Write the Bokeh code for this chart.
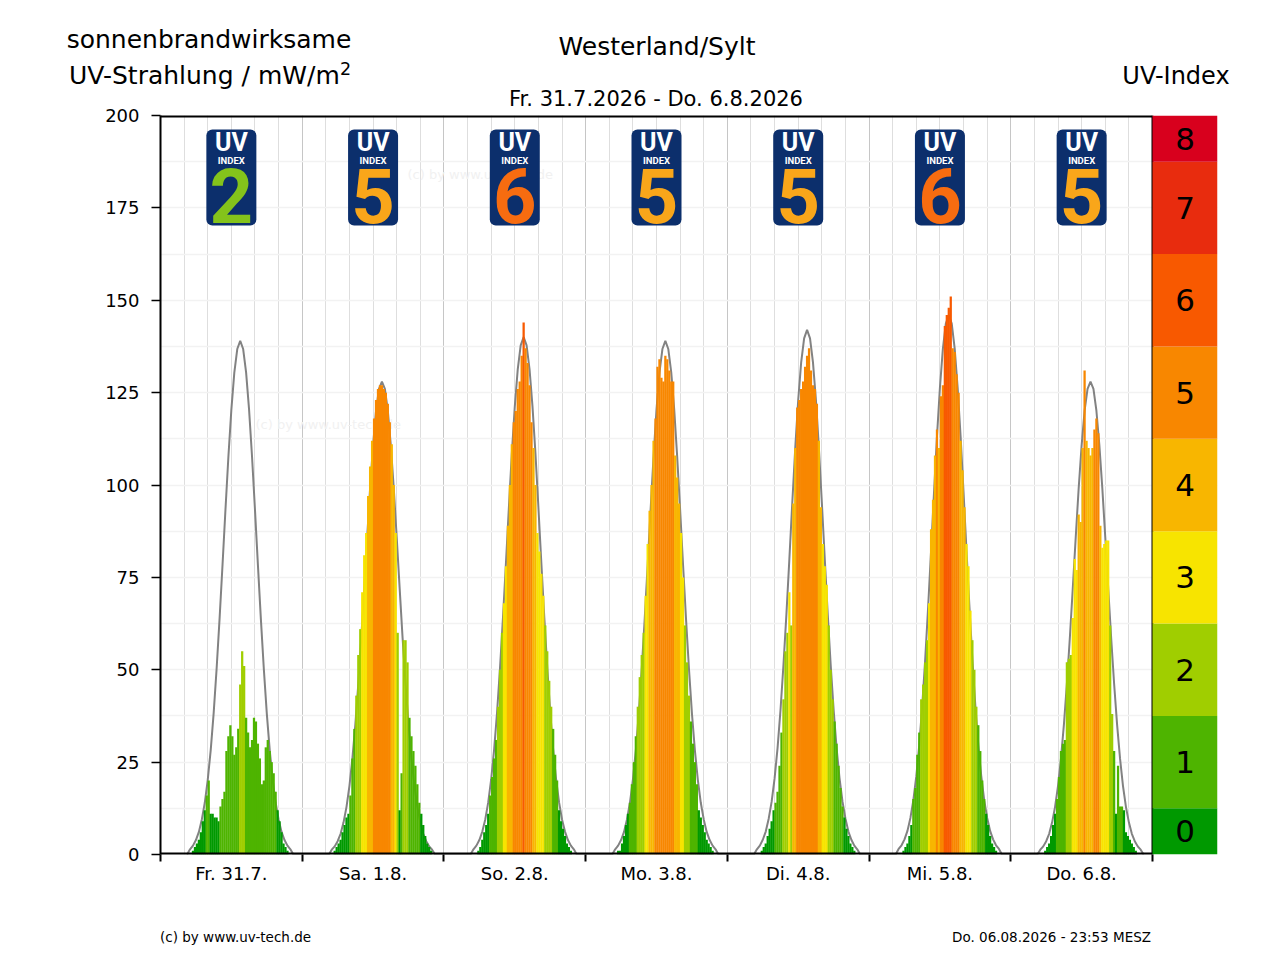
'''
Sonnenbrandwirksame UV-Strahlung einer Woche: Messwerte als Balken, Klarhimmel-Kurve grau (Bokeh)
'''
# 3rd-party
from bokeh.plotting import figure
from bokeh.layouts import column
from bokeh.models import Range1d, FixedTicker, ColumnDataSource, Div
from bokeh.core.properties import value
from bokeh.embed import file_html
from bokeh.resources import INLINE

STATION = 'Westerland/Sylt'
PERIOD = 'Fr. 31.7.2026 - Do. 6.8.2026'
STAMP = 'Do. 06.08.2026 - 23:53 MESZ'
CREDIT = '(c) by www.uv-tech.de'

DAY_LABELS = ['Fr. 31.7.', 'Sa. 1.8.', 'So. 2.8.', 'Mo. 3.8.', 'Di. 4.8.', 'Mi. 5.8.', 'Do. 6.8.']
# highest UV index of each day (badges on top)
UV_MAX = [2, 5, 6, 5, 5, 6, 5]

# measured values in mW/m2, one every 20 minutes from 5:00 to 21:40
BAR_START = 5.0
BAR_STEP = 1 / 3
FR = [0, 1, 2, 3, 4, 6, 9, 12, 16, 20,
      11, 11, 10, 10, 9, 13, 15, 17, 28, 32,
      35, 32, 27, 29, 34, 46, 55, 51, 37, 33,
      29, 31, 37, 36, 30, 26, 19, 20, 29, 31,
      28, 25, 22, 17, 12, 9, 6, 3, 2, 1, 0]
SA = [0, 1, 2, 3, 4, 6, 8, 10, 11, 16,
      26, 34, 43, 54, 61, 71, 81, 87, 97, 105,
      112, 118, 123, 126, 127, 127, 126, 125, 122, 117,
      111, 100, 87, 60, 12, 22, 58, 58, 52, 37,
      32, 28, 24, 19, 14, 11, 8, 5, 3, 2, 1]
SO = [0, 0, 1, 2, 4, 6, 8, 11, 16, 21,
      26, 31, 40, 50, 60, 68, 78, 89, 100, 111,
      117, 120, 126, 128, 135, 144, 137, 133, 127, 117,
      110, 100, 87, 82, 76, 70, 62, 55, 47, 40,
      34, 27, 20, 12, 9, 7, 5, 3, 2, 1, 0]
MO = [0, 1, 1, 3, 5, 8, 11, 14, 19, 25,
      32, 40, 48, 54, 60, 70, 84, 93, 100, 112,
      118, 132, 134, 129, 128, 135, 134, 131, 128, 128,
      108, 102, 95, 87, 75, 62, 52, 43, 36, 30,
      25, 19, 12, 10, 8, 6, 4, 3, 2, 1, 0]
DI = [0, 0, 1, 2, 3, 5, 7, 9, 12, 14,
      17, 24, 33, 42, 55, 60, 71, 62, 95, 110,
      121, 123, 126, 128, 132, 135, 137, 131, 127, 126,
      122, 112, 94, 84, 78, 73, 62, 50, 42, 36,
      30, 24, 18, 13, 10, 7, 5, 3, 2, 1, 0]
MI = [0, 0, 1, 2, 3, 5, 8, 15, 18, 27,
      33, 42, 46, 52, 58, 68, 88, 96, 108, 115,
      110, 124, 127, 143, 146, 148, 151, 137, 136, 130,
      125, 112, 104, 94, 84, 78, 66, 58, 50, 40,
      35, 28, 20, 15, 11, 8, 5, 3, 2, 1, 0]
DO = [0, 0, 1, 2, 3, 5, 8, 11, 15, 21,
      28, 30, 31, 52, 53, 54, 64, 80, 77, 92,
      90, 110, 131, 112, 110, 108, 110, 115, 118, 114,
      89, 83, 84, 85, 85, 62, 38, 28, 11, 24,
      13, 13, 12, 6, 5, 4, 3, 2, 1, 0, 0]
MEASURED = [FR, SA, SO, MO, DI, MI, DO]

# clear-sky values in mW/m2, one every 30 minutes from 4:30 to 22:30
CURVE_START = 4.5
CURVE_STEP = 0.5
CLEAR_FR = [0.0, 1.4, 2.4, 3.9, 6.1, 9.5, 14.0, 20.2, 28.2, 38.2, 50.2, 63.7, 78.3, 93.3, 107.7, 120.4, 130.4, 136.8,
            139.0, 136.8, 130.4, 120.4, 107.7, 93.3, 78.3, 63.7, 50.2, 38.2, 28.2, 20.2, 14.0, 9.5, 6.1, 3.9, 2.4, 1.4, 0.0]
CLEAR_SA = [0.0, 1.3, 2.2, 3.6, 5.6, 8.7, 12.9, 18.6, 26.0, 35.2, 46.2, 58.6, 72.1, 85.9, 99.2, 110.8, 120.1, 126.0,
            128.0, 126.0, 120.1, 110.8, 99.2, 85.9, 72.1, 58.6, 46.2, 35.2, 26.0, 18.6, 12.9, 8.7, 5.6, 3.6, 2.2, 1.3, 0.0]
CLEAR_SO = [0.0, 1.4, 2.4, 3.9, 6.2, 9.5, 14.1, 20.3, 28.4, 38.5, 50.5, 64.1, 78.8, 93.9, 108.5, 121.2, 131.3, 137.8,
            140.0, 137.8, 131.3, 121.2, 108.5, 93.9, 78.8, 64.1, 50.5, 38.5, 28.4, 20.3, 14.1, 9.5, 6.2, 3.9, 2.4, 1.4, 0.0]
CLEAR_MO = [0.0, 1.4, 2.4, 3.9, 6.1, 9.5, 14.0, 20.2, 28.2, 38.2, 50.2, 63.7, 78.3, 93.3, 107.7, 120.4, 130.4, 136.8,
            139.0, 136.8, 130.4, 120.4, 107.7, 93.3, 78.3, 63.7, 50.2, 38.2, 28.2, 20.2, 14.0, 9.5, 6.1, 3.9, 2.4, 1.4, 0.0]
CLEAR_DI = [0.0, 1.4, 2.4, 4.0, 6.2, 9.7, 14.3, 20.6, 28.8, 39.1, 51.3, 65.0, 79.9, 95.3, 110.1, 123.0, 133.2, 139.7,
            142.0, 139.7, 133.2, 123.0, 110.1, 95.3, 79.9, 65.0, 51.3, 39.1, 28.8, 20.6, 14.3, 9.7, 6.2, 4.0, 2.4, 1.4, 0.0]
CLEAR_MI = [0.0, 1.5, 2.5, 4.1, 6.4, 9.9, 14.7, 21.2, 29.6, 40.2, 52.7, 66.9, 82.2, 98.0, 113.2, 126.4, 136.9, 143.7,
            146.0, 143.7, 136.9, 126.4, 113.2, 98.0, 82.2, 66.9, 52.7, 40.2, 29.6, 21.2, 14.7, 9.9, 6.4, 4.1, 2.5, 1.5, 0.0]
CLEAR_DO = [0.0, 1.3, 2.2, 3.6, 5.6, 8.7, 12.9, 18.6, 26.0, 35.2, 46.2, 58.6, 72.1, 85.9, 99.2, 110.8, 120.1, 126.0,
            128.0, 126.0, 120.1, 110.8, 99.2, 85.9, 72.1, 58.6, 46.2, 35.2, 26.0, 18.6, 12.9, 8.7, 5.6, 3.6, 2.2, 1.3, 0.0]
CLEAR_SKY = [CLEAR_FR, CLEAR_SA, CLEAR_SO, CLEAR_MO, CLEAR_DI, CLEAR_MI, CLEAR_DO]

# UV index scale: one index step = 25 mW/m2
UV_LEVELS = [0, 1, 2, 3, 4, 5, 6, 7, 8]
UV_COLORS = ['#009900', '#4eb400', '#a0ce00', '#f7e400', '#f8b600',
             '#f88700', '#f85900', '#e82c0e', '#d8001d']
BADGE_DIGIT_COLORS = {2: '#84c31b', 5: '#f9a61a', 6: '#f76c10'}
MW_PER_INDEX = 25
Y_MAX = 200

FONT = 'DejaVu Sans'
BADGE_FONT = 'Roboto'

# page layout in pixels
PAGE_W = 1264
HEADER_H = 108
PLOT_OVERLAP = 12          # plot canvas starts this much above the header's end
FOOTER_TOP, FOOTER_BOTTOM = 900, 954
FRAME_LEFT, FRAME_TOP, FRAME_RIGHT, FRAME_BOTTOM = 160, 115, 1152, 854
SCALE_WIDTH = 65
n_days = len(DAY_LABELS)
px_per_day = (FRAME_RIGHT - FRAME_LEFT) / n_days
px_per_unit = (FRAME_BOTTOM - FRAME_TOP) / Y_MAX


def page_to_data(px, py):
	return (px - FRAME_LEFT) / px_per_day, (FRAME_BOTTOM - py) / px_per_unit


def uv_color(v):
	return UV_COLORS[min(int(v / MW_PER_INDEX + 0.5), len(UV_COLORS) - 1)]


def span(x, y, text, size, align='center'):
	shift = {'left': '0', 'center': '-50%', 'right': '-100%'}[align]
	return (f'<span style="position:absolute;left:{x}px;top:{y}px;font-size:{size}px;'
		f'white-space:nowrap;line-height:1.15;transform:translate({shift},-50%)">{text}</span>')


def text_strip(height, spans):
	html = (f'<div style="position:relative;width:{PAGE_W}px;height:{height}px;'
		f'font-family:\'{FONT}\';color:black">' + ''.join(spans) + '</div>')
	return Div(text=html, width=PAGE_W, height=height, margin=(0, 0, 0, 0))


# header: axis caption, station, period, scale caption
header = text_strip(HEADER_H, [
	span(209, 39.5, 'sonnenbrandwirksame', 25),
	span(69, 76, 'UV-Strahlung / mW/m', 25, align='left'),
	span(340, 68.5, '2', 17.5, align='left'),
	span(657, 47, STATION, 25),
	span(656, 98.5, PERIOD, 21),
	span(1176, 77, 'UV-Index', 24),
])

# bars, one per 20 minute slot, coloured by UV index
bar_x, bar_top, bar_color = [], [], []
for d, day in enumerate(MEASURED):
	for i, v in enumerate(day):
		bar_x.append(d + (BAR_START + (i + 0.5) * BAR_STEP) / 24)
		bar_top.append(v)
		bar_color.append(uv_color(v))
bars = ColumnDataSource(dict(x=bar_x, top=bar_top, color=bar_color))

curve_x, curve_y = [], []
for d, day in enumerate(CLEAR_SKY):
	for i, v in enumerate(day):
		curve_x.append(d + (CURVE_START + i * CURVE_STEP) / 24)
		curve_y.append(v)

scale_w = SCALE_WIDTH / px_per_day
p = figure(
	frame_width=FRAME_RIGHT - FRAME_LEFT + SCALE_WIDTH,
	frame_height=FRAME_BOTTOM - FRAME_TOP,
	x_range=Range1d(0, n_days + scale_w),
	y_range=Range1d(0, Y_MAX),
	min_border_left=FRAME_LEFT, min_border_top=FRAME_TOP - HEADER_H + PLOT_OVERLAP,
	min_border_right=PAGE_W - FRAME_RIGHT - SCALE_WIDTH, min_border_bottom=FOOTER_TOP - FRAME_BOTTOM,
	output_backend='svg', toolbar_location=None,
	outline_line_color=None,
	background_fill_color='white', border_fill_color='white', border_fill_alpha=0,
	margin=(-PLOT_OVERLAP, 0, 0, 0),
)

# grid: day boundaries and every 4 hours, horizontal every half index step
p.xgrid.ticker = FixedTicker(ticks=list(range(1, n_days)),
	minor_ticks=[d + k / 6 for d in range(n_days) for k in range(1, 6)])
p.xgrid.grid_line_color = '#c6c6c6'
p.xgrid.minor_grid_line_color = '#dedede'
p.ygrid.ticker = FixedTicker(ticks=[MW_PER_INDEX / 2 * k for k in range(1, 16)])
p.ygrid.grid_line_color = '#f2f2f2'
p.ygrid.grid_line_width = 1.5

# x axis: labels in the middle of each day, tick marks at the day boundaries
p.xaxis.ticker = FixedTicker(ticks=[d + 0.5 for d in range(n_days)], minor_ticks=list(range(n_days + 1)))
p.xaxis.major_label_overrides = {d + 0.5: lbl for d, lbl in enumerate(DAY_LABELS)}
p.xaxis.major_tick_line_color = None
p.xaxis.major_tick_out = 0
p.xaxis.minor_tick_in = 0
p.xaxis.minor_tick_out = 7
p.xaxis.minor_tick_line_color = 'black'
p.xaxis.minor_tick_line_width = 2
p.xaxis.axis_line_color = None
p.xaxis.major_label_standoff = 1

p.yaxis.ticker = FixedTicker(ticks=list(range(0, Y_MAX + 1, MW_PER_INDEX)))
p.yaxis.major_tick_in = 0
p.yaxis.major_tick_out = 9
p.yaxis.major_tick_line_width = 1.5
p.yaxis.major_tick_line_color = 'black'
p.yaxis.axis_line_width = 2
p.yaxis.axis_line_color = 'black'
p.yaxis.major_label_standoff = 12
for ax in (p.xaxis, p.yaxis):
	ax.major_label_text_font = FONT
	ax.major_label_text_font_size = '18px'
	ax.major_label_text_color = 'black'

# watermarks
for wx, wy in [(407, 174), (255, 424)]:
	x, y = page_to_data(wx, wy)
	p.text(x=[x], y=[y], text=[CREDIT], text_font=value(FONT), text_font_size='13px',
		text_color='#f1f1f1', text_align='left', text_baseline='middle')

# clear-sky curve under the measured bars
p.line(curve_x, curve_y, line_color='#828282', line_width=2)
p.vbar(x='x', top='top', bottom=0, width=BAR_STEP / 24 * 1.15, fill_color='color', line_color=None, source=bars)

# UV index badges at noon of each day
badge_x = [d + 0.5 for d in range(n_days)]
badge_half = 25 / px_per_day
p.quad(left=[x - badge_half for x in badge_x], right=[x + badge_half for x in badge_x],
	bottom=page_to_data(0, 225)[1], top=page_to_data(0, 129)[1],
	fill_color='#0c2f6c', line_color=None, border_radius=6)
p.text(x=badge_x, y=page_to_data(0, 142)[1], text=['UV'] * n_days, text_color='white',
	text_font=value(BADGE_FONT), text_font_size='25px', text_font_style='bold',
	text_align='center', text_baseline='middle')
p.text(x=badge_x, y=page_to_data(0, 160)[1], text=['INDEX'] * n_days, text_color='white',
	text_font=value(BADGE_FONT), text_font_size='9.5px', text_font_style='bold',
	text_align='center', text_baseline='middle')
p.text(x=badge_x, y=page_to_data(0, 195)[1], text=[str(u) for u in UV_MAX],
	text_color=[BADGE_DIGIT_COLORS.get(u, 'white') for u in UV_MAX],
	text_font=value(BADGE_FONT), text_font_size='76px', text_font_style='bold',
	text_align='center', text_baseline='middle')

# frame lines around the daily part only
p.segment(x0=[0, 0], y0=[0, Y_MAX], x1=[n_days, n_days], y1=[0, Y_MAX], line_color='black', line_width=4)
p.segment(x0=[n_days], y0=[0], x1=[n_days], y1=[Y_MAX], line_color='black', line_width=2)

# UV index colour scale on the right
band_bottom = [max(0, MW_PER_INDEX * k - MW_PER_INDEX / 2) for k in UV_LEVELS]
band_top = [min(Y_MAX, MW_PER_INDEX * k + MW_PER_INDEX / 2) for k in UV_LEVELS]
p.quad(left=n_days, right=n_days + scale_w, bottom=band_bottom, top=band_top,
	fill_color=UV_COLORS, line_color=None)
p.text(x=n_days + scale_w / 2, y=[(b + t) / 2 for b, t in zip(band_bottom, band_top)],
	text=[str(k) for k in UV_LEVELS], text_font=value(FONT), text_font_size='31px',
	text_color='black', text_align='center', text_baseline='middle')

# footer: credit and time stamp
footer = text_strip(FOOTER_BOTTOM - FOOTER_TOP, [
	span(160, 938 - FOOTER_TOP, CREDIT, 13.5, align='left'),
	span(1151, 938 - FOOTER_TOP, STAMP, 13.5, align='right'),
])

page = column(header, p, footer, spacing=0)
open('out.html', 'w').write(file_html(page, INLINE, 'UV-Strahlung'))
